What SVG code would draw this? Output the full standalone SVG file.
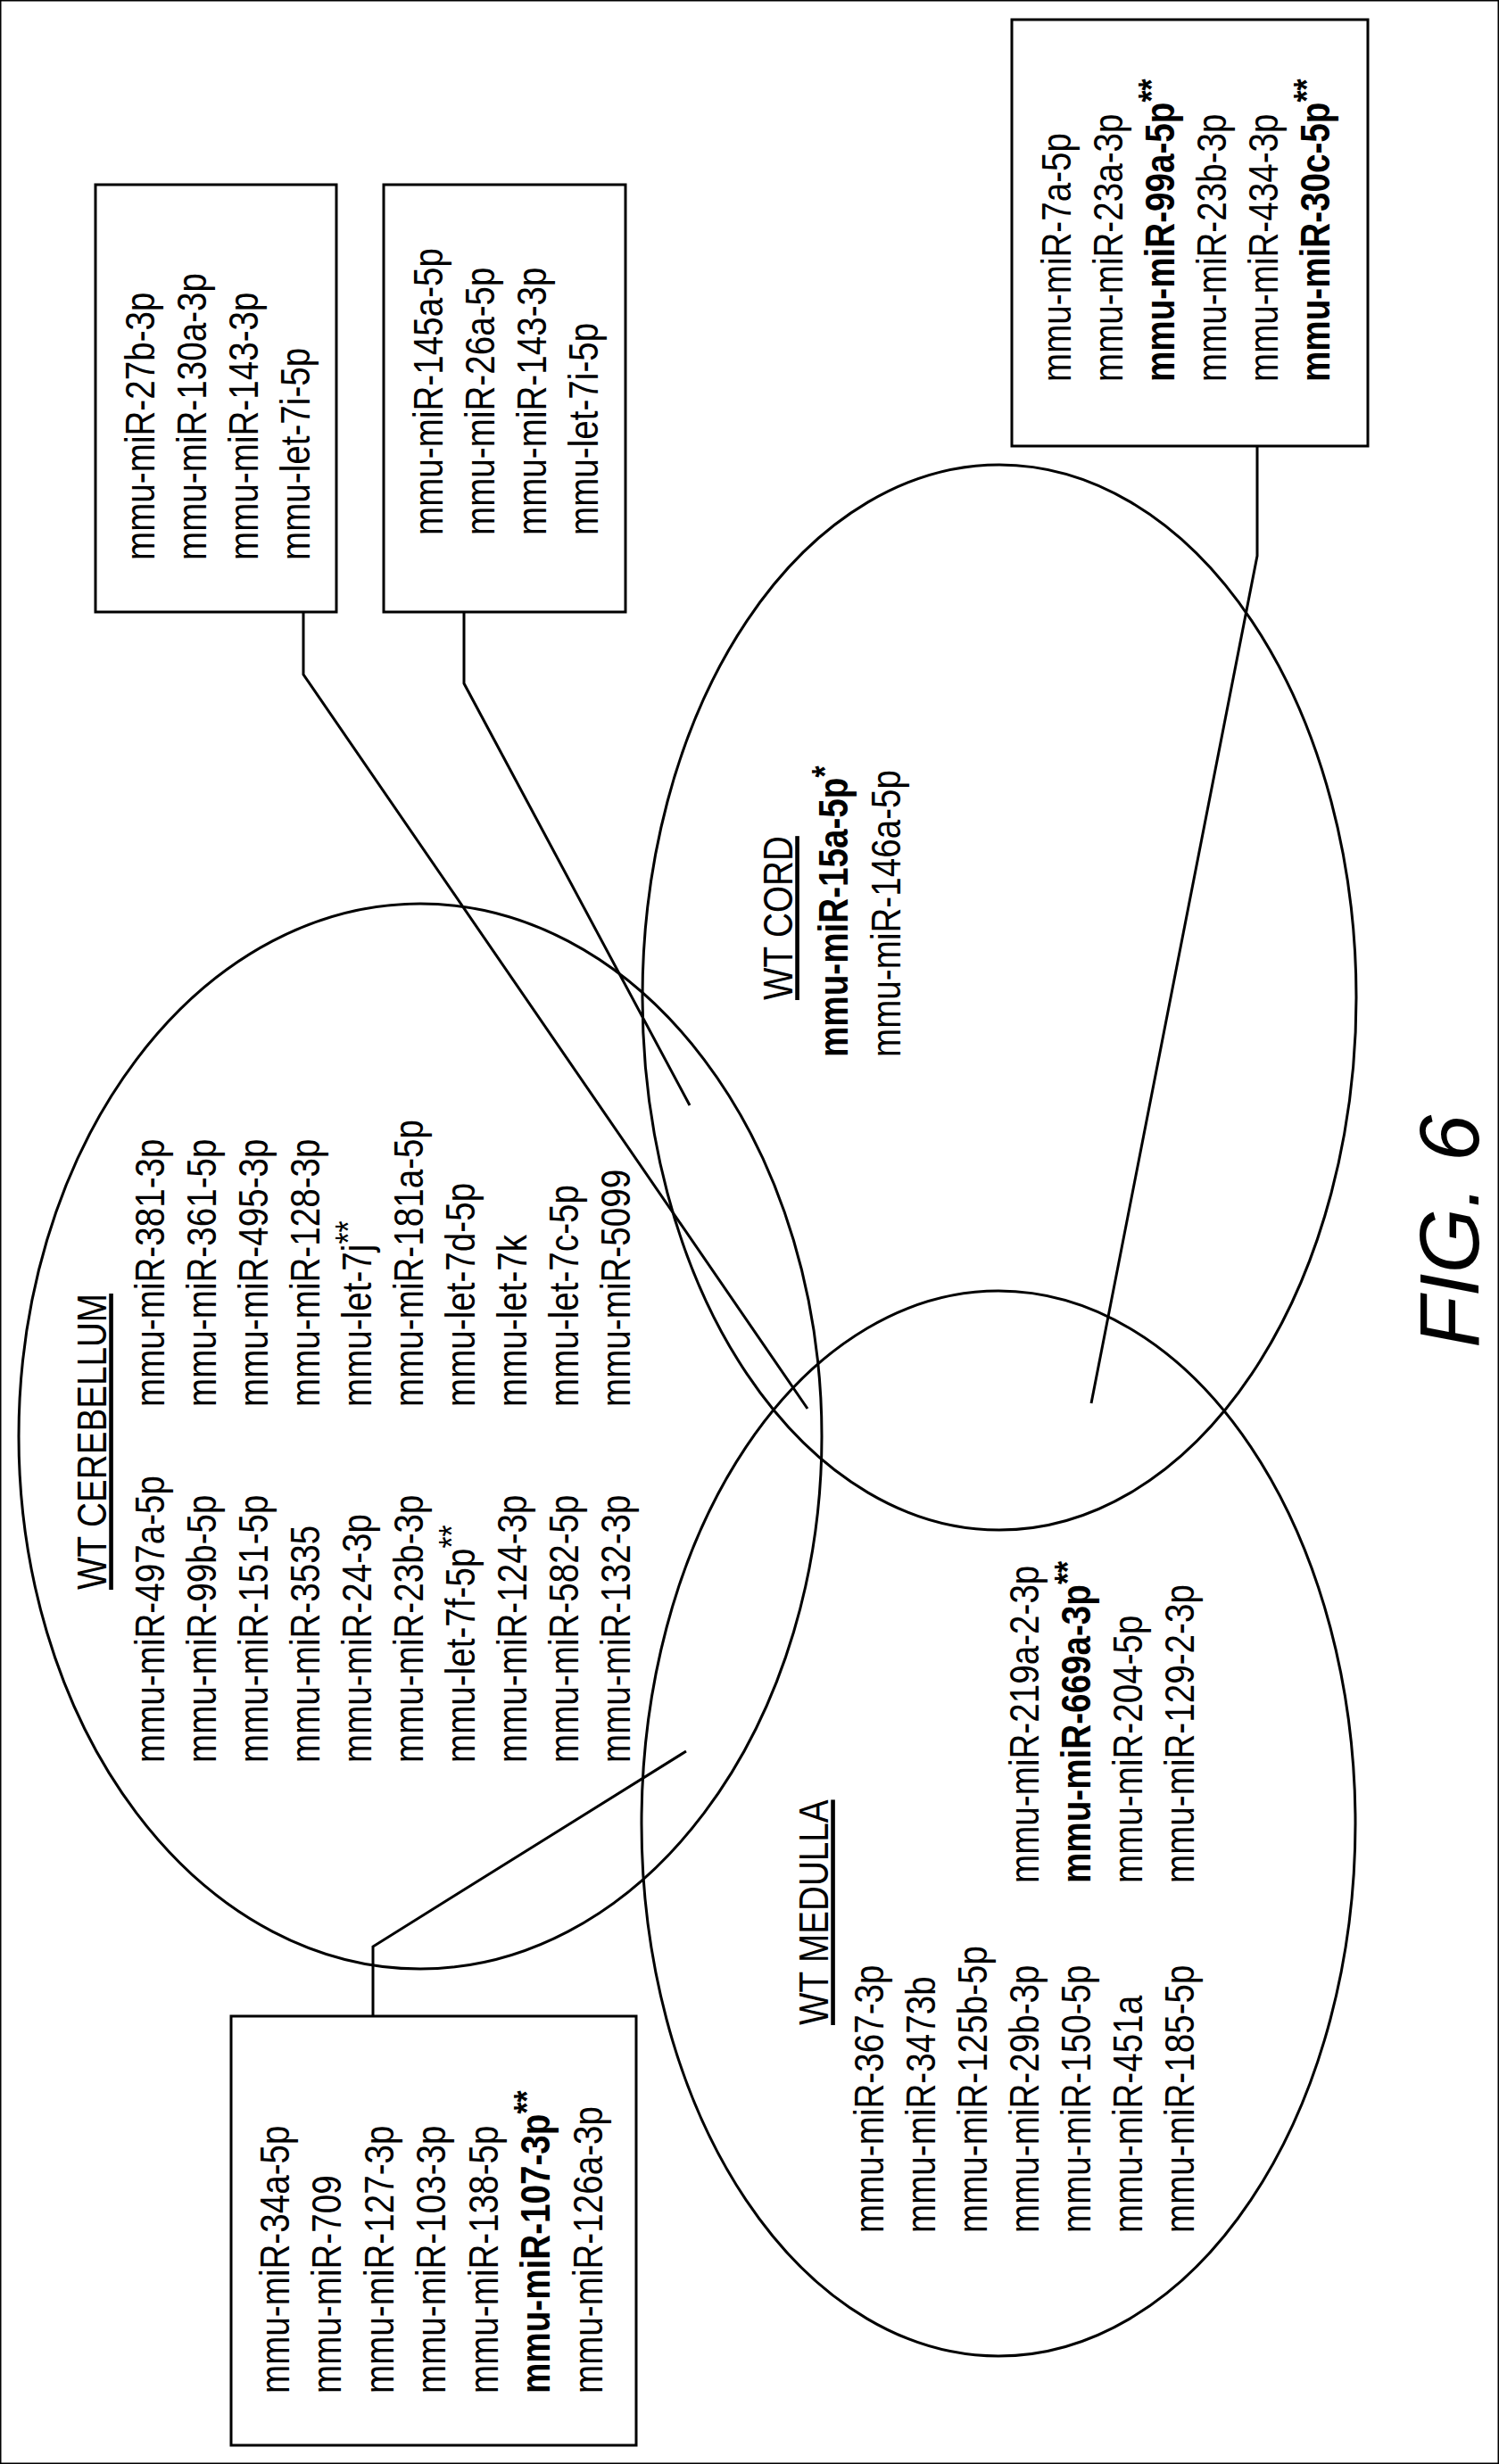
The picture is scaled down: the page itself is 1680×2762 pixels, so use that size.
<svg xmlns="http://www.w3.org/2000/svg" width="1680" height="2762" viewBox="0 0 1680 2762">
<style>
text{font-family:"Liberation Sans",Arial,sans-serif;font-size:46px;fill:#000}
.b{font-weight:bold}
.u{text-decoration:underline}
.s{font-size:40px;baseline-shift:30%}
.fig{font-size:94px;font-style:italic}
rect,ellipse,polyline{fill:none;stroke:#000;stroke-width:3}
</style>
<rect width="1680" height="2762" fill="#fff" stroke="none"/>
<g id="connectors">
<polyline points="340,686 340,756 905,1579"/>
<polyline points="520,686 520,766 773,1239"/>
<polyline points="1409,500 1409,623 1223,1573"/>
<polyline points="418,2260 418,2182 769,1963"/>
</g>
<g id="cerebellum">
<ellipse cx="471" cy="1610" rx="450" ry="597"/>
<text class="u" transform="translate(119,1782) rotate(-90) scale(0.84,1)">WT CEREBELLUM</text>
<text transform="translate(184,1976) rotate(-90) scale(0.84,1)">mmu-miR-497a-5p</text>
<text transform="translate(242,1976) rotate(-90) scale(0.84,1)">mmu-miR-99b-5p</text>
<text transform="translate(300,1976) rotate(-90) scale(0.84,1)">mmu-miR-151-5p</text>
<text transform="translate(358,1976) rotate(-90) scale(0.84,1)">mmu-miR-3535</text>
<text transform="translate(416,1976) rotate(-90) scale(0.84,1)">mmu-miR-24-3p</text>
<text transform="translate(474,1976) rotate(-90) scale(0.84,1)">mmu-miR-23b-3p</text>
<text transform="translate(532,1976) rotate(-90) scale(0.84,1)">mmu-let-7f-5p<tspan class="s">**</tspan></text>
<text transform="translate(590,1976) rotate(-90) scale(0.84,1)">mmu-miR-124-3p</text>
<text transform="translate(648,1976) rotate(-90) scale(0.84,1)">mmu-miR-582-5p</text>
<text transform="translate(706,1976) rotate(-90) scale(0.84,1)">mmu-miR-132-3p</text>
<text transform="translate(184,1577) rotate(-90) scale(0.84,1)">mmu-miR-381-3p</text>
<text transform="translate(242,1577) rotate(-90) scale(0.84,1)">mmu-miR-361-5p</text>
<text transform="translate(300,1577) rotate(-90) scale(0.84,1)">mmu-miR-495-3p</text>
<text transform="translate(358,1577) rotate(-90) scale(0.84,1)">mmu-miR-128-3p</text>
<text transform="translate(416,1577) rotate(-90) scale(0.84,1)">mmu-let-7j<tspan class="s">**</tspan></text>
<text transform="translate(474,1577) rotate(-90) scale(0.84,1)">mmu-miR-181a-5p</text>
<text transform="translate(532,1577) rotate(-90) scale(0.84,1)">mmu-let-7d-5p</text>
<text transform="translate(590,1577) rotate(-90) scale(0.84,1)">mmu-let-7k</text>
<text transform="translate(648,1577) rotate(-90) scale(0.84,1)">mmu-let-7c-5p</text>
<text transform="translate(706,1577) rotate(-90) scale(0.84,1)">mmu-miR-5099</text>
</g>
<g id="cord">
<ellipse cx="1120" cy="1118" rx="400" ry="597"/>
<text class="u" transform="translate(888,1121) rotate(-90) scale(0.84,1)">WT CORD</text>
<text class="b" transform="translate(950,1185) rotate(-90) scale(0.84,1)">mmu-miR-15a-5p<tspan class="s">*</tspan></text>
<text transform="translate(1009,1185) rotate(-90) scale(0.84,1)">mmu-miR-146a-5p</text>
</g>
<g id="medulla">
<ellipse cx="1119" cy="2044" rx="400" ry="597"/>
<text class="u" transform="translate(928,2270) rotate(-90) scale(0.84,1)">WT MEDULLA</text>
<text transform="translate(990,2503) rotate(-90) scale(0.84,1)">mmu-miR-367-3p</text>
<text transform="translate(1048,2503) rotate(-90) scale(0.84,1)">mmu-miR-3473b</text>
<text transform="translate(1106,2503) rotate(-90) scale(0.84,1)">mmu-miR-125b-5p</text>
<text transform="translate(1164,2503) rotate(-90) scale(0.84,1)">mmu-miR-29b-3p</text>
<text transform="translate(1222,2503) rotate(-90) scale(0.84,1)">mmu-miR-150-5p</text>
<text transform="translate(1280,2503) rotate(-90) scale(0.84,1)">mmu-miR-451a</text>
<text transform="translate(1338,2503) rotate(-90) scale(0.84,1)">mmu-miR-185-5p</text>
<text transform="translate(1164,2111) rotate(-90) scale(0.84,1)">mmu-miR-219a-2-3p</text>
<text class="b" transform="translate(1222,2111) rotate(-90) scale(0.84,1)">mmu-miR-669a-3p<tspan class="s">**</tspan></text>
<text transform="translate(1280,2111) rotate(-90) scale(0.84,1)">mmu-miR-204-5p</text>
<text transform="translate(1338,2111) rotate(-90) scale(0.84,1)">mmu-miR-129-2-3p</text>
</g>
<g id="box1">
<rect x="107" y="207" width="270" height="479"/>
<text transform="translate(173,628) rotate(-90) scale(0.84,1)">mmu-miR-27b-3p</text>
<text transform="translate(231,628) rotate(-90) scale(0.84,1)">mmu-miR-130a-3p</text>
<text transform="translate(289,628) rotate(-90) scale(0.84,1)">mmu-miR-143-3p</text>
<text transform="translate(347,628) rotate(-90) scale(0.84,1)">mmu-let-7i-5p</text>
</g>
<g id="box2">
<rect x="430" y="207" width="271" height="479"/>
<text transform="translate(496,600) rotate(-90) scale(0.84,1)">mmu-miR-145a-5p</text>
<text transform="translate(554,600) rotate(-90) scale(0.84,1)">mmu-miR-26a-5p</text>
<text transform="translate(612,600) rotate(-90) scale(0.84,1)">mmu-miR-143-3p</text>
<text transform="translate(670,600) rotate(-90) scale(0.84,1)">mmu-let-7i-5p</text>
</g>
<g id="box3">
<rect x="1134" y="22" width="399" height="478"/>
<text transform="translate(1200,428) rotate(-90) scale(0.84,1)">mmu-miR-7a-5p</text>
<text transform="translate(1258,428) rotate(-90) scale(0.84,1)">mmu-miR-23a-3p</text>
<text class="b" transform="translate(1316,428) rotate(-90) scale(0.84,1)">mmu-miR-99a-5p<tspan class="s">**</tspan></text>
<text transform="translate(1374,428) rotate(-90) scale(0.84,1)">mmu-miR-23b-3p</text>
<text transform="translate(1432,428) rotate(-90) scale(0.84,1)">mmu-miR-434-3p</text>
<text class="b" transform="translate(1490,428) rotate(-90) scale(0.84,1)">mmu-miR-30c-5p<tspan class="s">**</tspan></text>
</g>
<g id="box4">
<rect x="259" y="2260" width="454" height="481"/>
<text transform="translate(324,2683) rotate(-90) scale(0.84,1)">mmu-miR-34a-5p</text>
<text transform="translate(382,2683) rotate(-90) scale(0.84,1)">mmu-miR-709</text>
<text transform="translate(441,2683) rotate(-90) scale(0.84,1)">mmu-miR-127-3p</text>
<text transform="translate(499,2683) rotate(-90) scale(0.84,1)">mmu-miR-103-3p</text>
<text transform="translate(558,2683) rotate(-90) scale(0.84,1)">mmu-miR-138-5p</text>
<text class="b" transform="translate(616,2683) rotate(-90) scale(0.84,1)">mmu-miR-107-3p<tspan class="s">**</tspan></text>
<text transform="translate(675,2683) rotate(-90) scale(0.84,1)">mmu-miR-126a-3p</text>
</g>
<g id="fig">
<text class="fig" transform="translate(1657,1511) rotate(-90)">FIG. 6</text>
</g>
</svg>
